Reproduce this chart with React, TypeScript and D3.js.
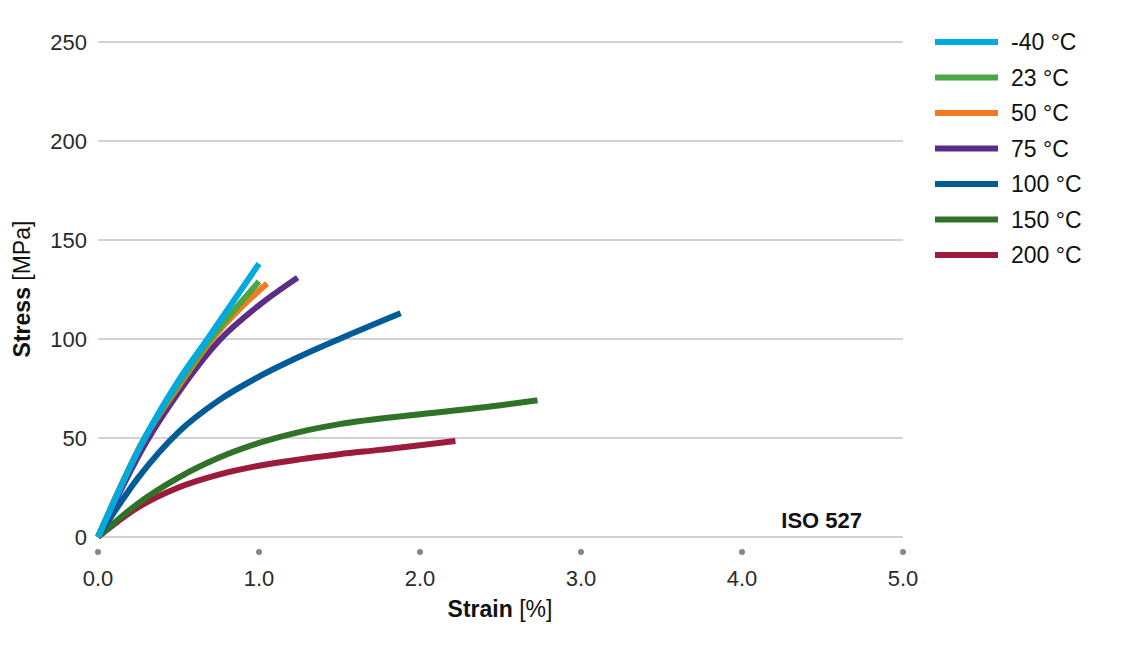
import React, { useEffect, useRef } from "react";
import * as d3 from "d3";

// stress-strain curves, strain [%] vs stress [MPa]
const temps = ["-40 °C", "23 °C", "50 °C", "75 °C", "100 °C", "150 °C", "200 °C"];
const colors = ["#00a9e0", "#4aa844", "#f47920", "#5b2d87", "#005c96", "#2f7329", "#9c1b3c"];

const curveM40: [number, number][] = [[0, 0], [0.29, 50], [0.5, 79], [0.68, 100], [1.0, 138]];
const curve23: [number, number][] = [[0, 0], [0.29, 50], [0.5, 77], [0.7, 100], [1.0, 129]];
const curve50: [number, number][] = [[0, 0], [0.29, 50], [0.5, 76], [0.71, 100], [1.05, 128]];
const curve75: [number, number][] = [[0, 0], [0.3, 48], [0.5, 73], [0.75, 99], [1.0, 117], [1.24, 131]];
const curve100: [number, number][] = [[0, 0], [0.25, 30], [0.5, 53], [0.75, 69], [1.0, 81], [1.25, 91], [1.5, 100], [1.88, 113]];
const curve150: [number, number][] = [[0, 0], [0.25, 17], [0.5, 30], [0.75, 40], [1.0, 47.5], [1.25, 53], [1.5, 57], [2.0, 62], [2.5, 66.5], [2.73, 69]];
const curve200: [number, number][] = [[0, 0], [0.25, 15], [0.5, 25], [0.75, 31.5], [1.0, 36], [1.25, 39.2], [1.5, 41.8], [1.75, 44], [2.0, 46.3], [2.22, 48.5]];
const series = [curveM40, curve23, curve50, curve75, curve100, curve150, curve200];

const xTicks = [0, 1, 2, 3, 4, 5];
const yTicks = [0, 50, 100, 150, 200, 250];

const font = "'Liberation Sans', Arial, sans-serif";

const App: React.FC = () => {
  const svgRef = useRef<SVGSVGElement | null>(null);

  useEffect(() => {
    if (!svgRef.current) return;
    const width = 1146;
    const height = 663;

    const svg = d3.select(svgRef.current);
    svg.selectAll("*").remove();
    svg.attr("width", width).attr("height", height);

    const x = d3.scaleLinear().domain([0, 5]).range([98, 903]);
    const y = d3.scaleLinear().domain([0, 250]).range([537, 42]);

    // grid
    svg.append("g")
      .selectAll("line")
      .data(yTicks)
      .enter()
      .append("line")
      .attr("x1", x(0))
      .attr("x2", x(5))
      .attr("y1", (d) => y(d))
      .attr("y2", (d) => y(d))
      .attr("stroke", "#a6a6a6")
      .attr("stroke-width", 1.2);

    svg.append("g")
      .selectAll("text")
      .data(yTicks)
      .enter()
      .append("text")
      .attr("x", 87)
      .attr("y", (d) => y(d))
      .attr("dy", "0.36em")
      .attr("text-anchor", "end")
      .style("font-family", font)
      .style("font-size", "22px")
      .attr("fill", "#2a2a2a")
      .text((d) => d);

    // x ticks: dots + labels
    svg.append("g")
      .selectAll("circle")
      .data(xTicks)
      .enter()
      .append("circle")
      .attr("cx", (d) => x(d))
      .attr("cy", 552)
      .attr("r", 3)
      .attr("fill", "#888");

    svg.append("g")
      .selectAll("text")
      .data(xTicks)
      .enter()
      .append("text")
      .attr("x", (d) => x(d))
      .attr("y", 586)
      .attr("text-anchor", "middle")
      .style("font-family", font)
      .style("font-size", "22px")
      .attr("fill", "#2a2a2a")
      .text((d) => d.toFixed(1));

    // axis titles
    const xt = svg.append("text")
      .attr("x", 500)
      .attr("y", 617)
      .attr("text-anchor", "middle")
      .style("font-family", font)
      .style("font-size", "23px")
      .attr("fill", "#111");
    xt.append("tspan").style("font-weight", "bold").text("Strain");
    xt.append("tspan").text(" [%]");

    const yt = svg.append("text")
      .attr("transform", "translate(30,289) rotate(-90)")
      .attr("text-anchor", "middle")
      .style("font-family", font)
      .style("font-size", "23px")
      .attr("fill", "#111");
    yt.append("tspan").style("font-weight", "bold").text("Stress");
    yt.append("tspan").text(" [MPa]");

    svg.append("text")
      .attr("x", 862)
      .attr("y", 528)
      .attr("text-anchor", "end")
      .style("font-family", font)
      .style("font-size", "22px")
      .style("font-weight", "bold")
      .attr("fill", "#111")
      .text("ISO 527");

    // curves
    const line = d3.line<[number, number]>()
      .x((d) => x(d[0]))
      .y((d) => y(d[1]))
      .curve(d3.curveMonotoneX);

    const order = [6, 5, 4, 3, 2, 1, 0];
    svg.append("g")
      .selectAll("path")
      .data(order)
      .enter()
      .append("path")
      .attr("d", (i) => line(series[i]) ?? "")
      .attr("fill", "none")
      .attr("stroke", (i) => colors[i])
      .attr("stroke-width", 6);

    // legend
    const leg = svg.append("g")
      .selectAll("g")
      .data(temps)
      .enter()
      .append("g")
      .attr("transform", (_d, i) => `translate(935,${42 + i * 35.5})`);
    leg.append("line")
      .attr("x1", 0)
      .attr("x2", 63)
      .attr("stroke", (_d, i) => colors[i])
      .attr("stroke-width", 6);
    leg.append("text")
      .attr("x", 76)
      .attr("dy", "0.36em")
      .style("font-family", font)
      .style("font-size", "23px")
      .attr("fill", "#111")
      .text((d) => d);
  }, []);

  return <svg ref={svgRef} style={{ display: "block", position: "absolute", left: 0, top: 0 }}></svg>;
};

export default App;
